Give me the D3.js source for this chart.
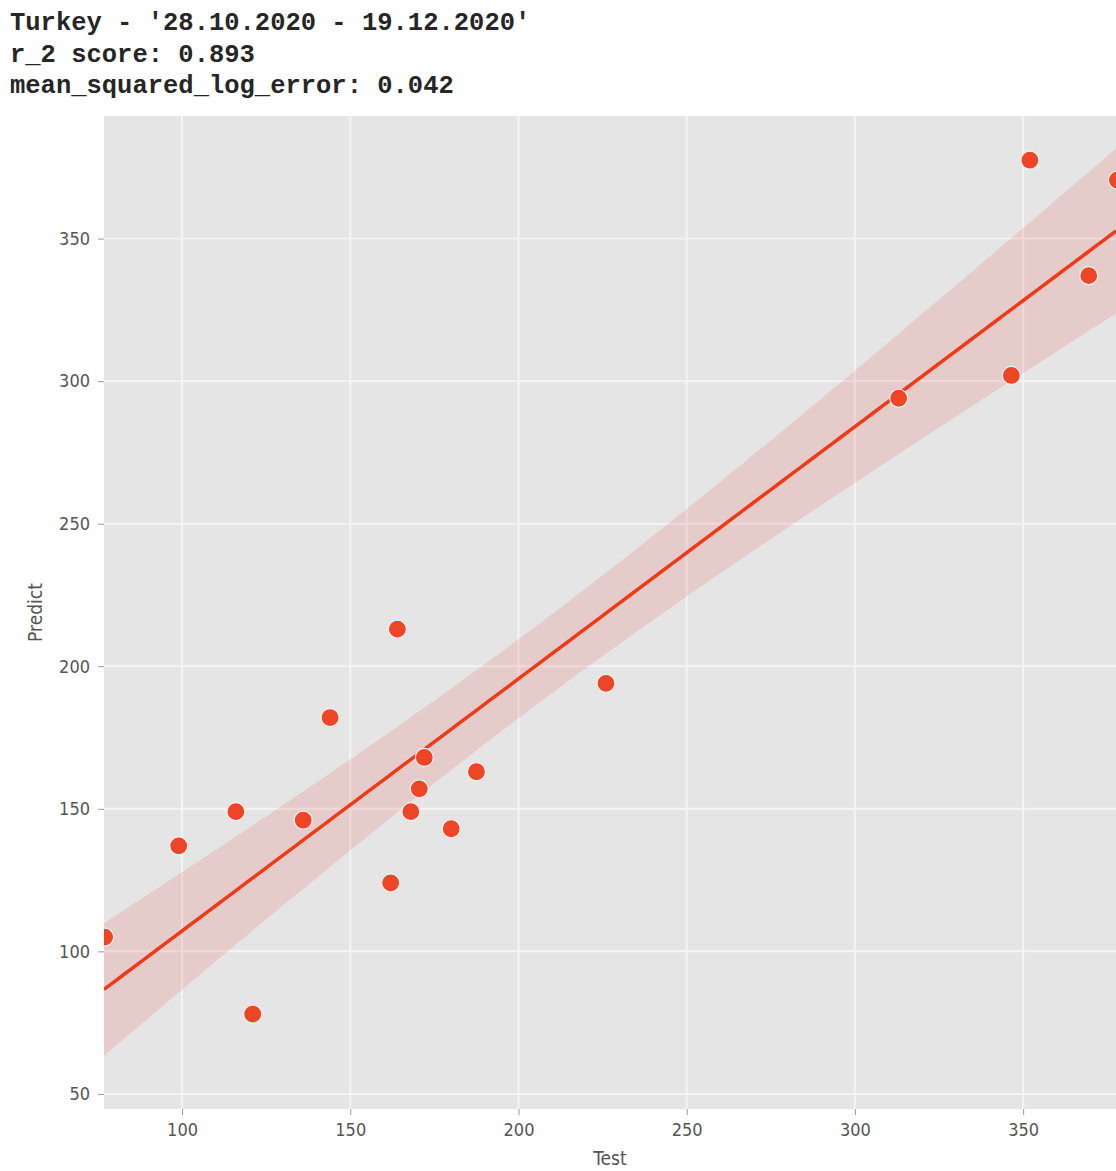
<!DOCTYPE html>
<html>
<head>
<meta charset="utf-8">
<script src="https://cdn.jsdelivr.net/npm/d3@7"></script>
<style>
  body { margin: 0; background: #fff; }
  svg { display: block; }
</style>
</head>
<body>
<svg id="chart" width="1116" height="1171"></svg>
<script>
// title lines
var titleLines = ["Turkey - '28.10.2020 - 19.12.2020'", "r_2 score: 0.893", "mean_squared_log_error: 0.042"];

// test vs predicted values
var testVals = [77, 99, 121, 116, 136, 144, 164, 162, 168, 170.5, 172, 180, 187.5, 226, 313, 346.5, 352, 369.5, 378];
var predVals = [105, 137, 78, 149, 146, 182, 213, 124, 149, 157, 168, 143, 163, 194, 294, 302, 377.5, 337, 370.5];

var xTicks = [100, 150, 200, 250, 300, 350];
var yTicks = [50, 100, 150, 200, 250, 300, 350];

var svg = d3.select("#chart"),
    margin = {top: 116, right: 0, bottom: 62, left: 104},
    W = +svg.attr("width") - margin.left - margin.right,
    H = +svg.attr("height") - margin.top - margin.bottom;

var red = "#EE4526",
    lineRed = "#EE3A18";

svg.selectAll("text.title")
  .data(titleLines)
  .enter().append("text")
  .attr("class", "title")
  .attr("x", 10)
  .attr("y", function(d, i){ return 30 + i * 31.5; })
  .attr("font-family", "'Liberation Mono', 'Courier New', monospace")
  .attr("font-weight", "bold")
  .attr("font-size", 25.5)
  .attr("fill", "#262626")
  .attr("xml:space", "preserve")
  .text(function(d){ return d; });

var x = d3.scaleLinear().domain([76.8, 377.6]).range([0, W]);
var y = d3.scaleLinear().domain([44.7, 393]).range([H, 0]);

var g = svg.append("g").attr("transform", "translate(" + margin.left + "," + margin.top + ")");

svg.append("defs").append("clipPath").attr("id", "clip")
  .append("rect").attr("width", W).attr("height", H);

g.append("rect").attr("width", W).attr("height", H).attr("fill", "#E5E5E5");

// grid
g.selectAll("line.gx").data(xTicks).enter().append("line")
  .attr("x1", x).attr("x2", x).attr("y1", 0).attr("y2", H)
  .attr("stroke", "#f4f4f4").attr("stroke-width", 2);
g.selectAll("line.gy").data(yTicks).enter().append("line")
  .attr("y1", y).attr("y2", y).attr("x1", 0).attr("x2", W)
  .attr("stroke", "#f4f4f4").attr("stroke-width", 2);

// least squares fit + 95% confidence band
var n = testVals.length,
    mx = d3.mean(testVals),
    my = d3.mean(predVals),
    sxx = d3.sum(testVals, function(v){ return (v - mx) * (v - mx); }),
    sxy = d3.sum(testVals, function(v, i){ return (v - mx) * (predVals[i] - my); }),
    b = sxy / sxx,
    a = my - b * mx,
    sse = d3.sum(testVals, function(v, i){ var r = predVals[i] - (a + b * v); return r * r; }),
    s = Math.sqrt(sse / (n - 2)),
    tval = 2.0;

var xs = d3.range(0, 101).map(function(i){ return x.domain()[0] + i / 100 * (x.domain()[1] - x.domain()[0]); });
var band = xs.map(function(v){
  var yh = a + b * v,
      se = s * Math.sqrt(1 / n + (v - mx) * (v - mx) / sxx);
  return {x: v, y: yh, lo: yh - tval * se, hi: yh + tval * se};
});

var plot = g.append("g").attr("clip-path", "url(#clip)");

plot.append("path")
  .datum(band)
  .attr("d", d3.area().x(function(d){ return x(d.x); }).y0(function(d){ return y(d.lo); }).y1(function(d){ return y(d.hi); }))
  .attr("fill", "#E8534A").attr("fill-opacity", 0.17);

plot.append("path")
  .datum(band)
  .attr("d", d3.line().x(function(d){ return x(d.x); }).y(function(d){ return y(d.y); }))
  .attr("fill", "none").attr("stroke", lineRed).attr("stroke-width", 3.5);

plot.selectAll("circle").data(testVals).enter().append("circle")
  .attr("cx", function(d){ return x(d); })
  .attr("cy", function(d, i){ return y(predVals[i]); })
  .attr("r", 9)
  .attr("fill", red)
  .attr("stroke", "#f2f2f2").attr("stroke-width", 1.2);

// axes
var xAxis = g.append("g").attr("transform", "translate(0," + H + ")")
  .call(d3.axisBottom(x).tickValues(xTicks).tickSize(6).tickPadding(8));
var yAxis = g.append("g")
  .call(d3.axisLeft(y).tickValues(yTicks).tickSize(6).tickPadding(8));
[xAxis, yAxis].forEach(function(ax){
  ax.select(".domain").remove();
  ax.selectAll(".tick line").attr("stroke", "#999").attr("stroke-width", 1);
  ax.selectAll(".tick text").attr("fill", "#555")
    .attr("font-family", "'DejaVu Sans Condensed', 'DejaVu Sans', sans-serif")
    .attr("font-size", 18);
});

svg.append("text")
  .attr("x", margin.left + W / 2).attr("y", 1165)
  .attr("text-anchor", "middle")
  .attr("font-family", "'DejaVu Sans Condensed', 'DejaVu Sans', sans-serif")
  .attr("font-size", 19).attr("fill", "#555")
  .text("Test");

svg.append("text")
  .attr("transform", "translate(42," + (margin.top + H / 2) + ") rotate(-90)")
  .attr("text-anchor", "middle")
  .attr("font-family", "'DejaVu Sans Condensed', 'DejaVu Sans', sans-serif")
  .attr("font-size", 19).attr("fill", "#555")
  .text("Predict");
</script>
</body>
</html>
